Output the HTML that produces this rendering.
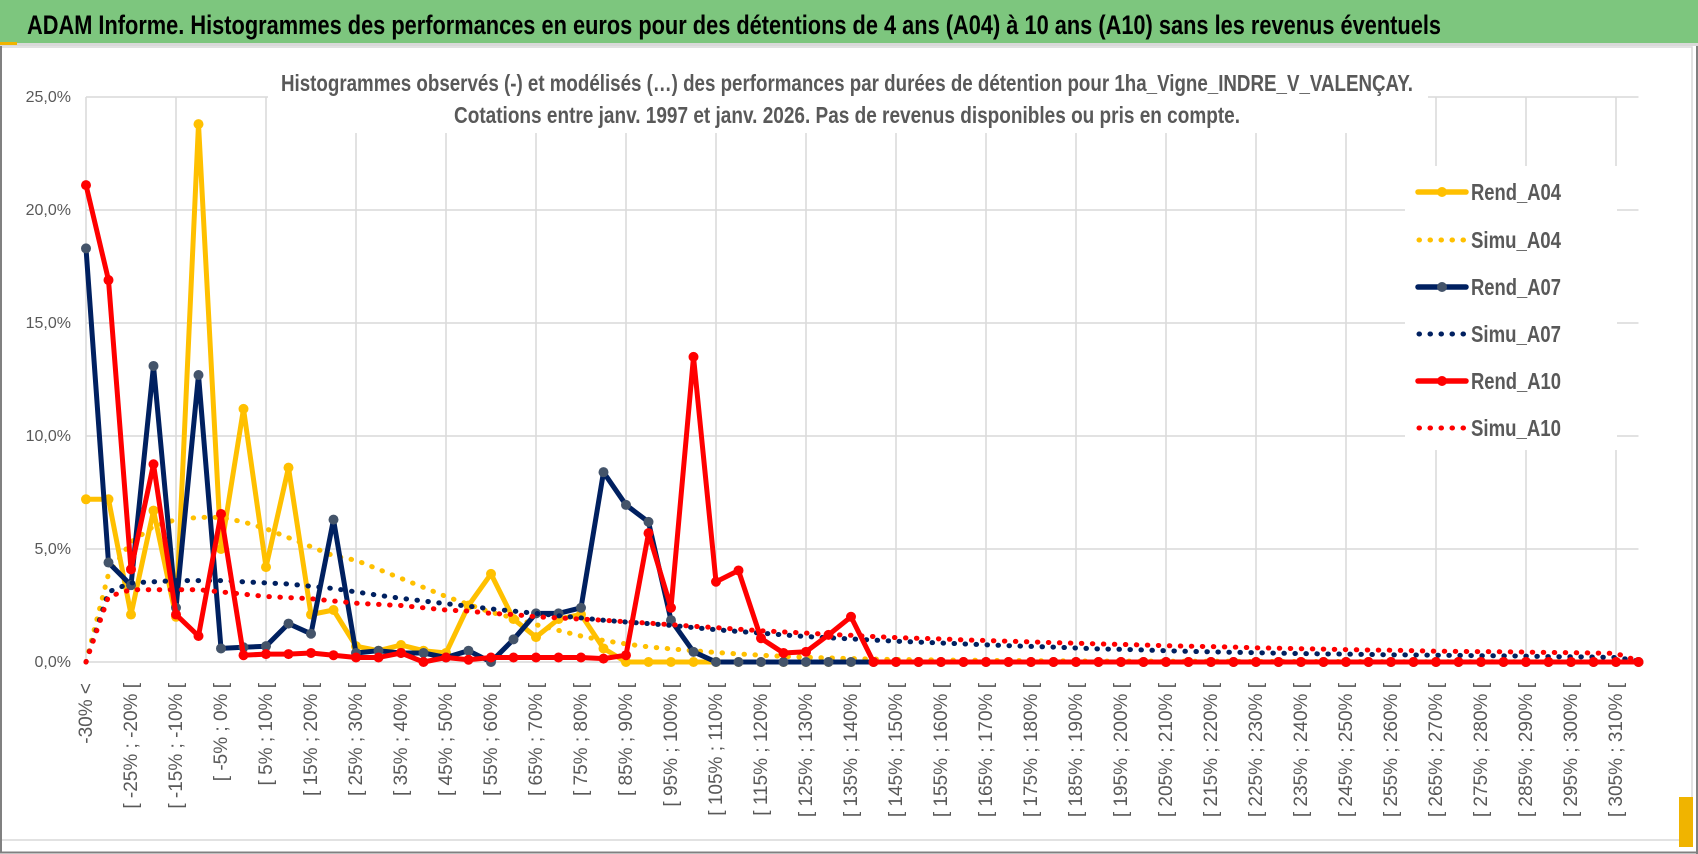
<!DOCTYPE html>
<html><head><meta charset="utf-8">
<style>
html,body{margin:0;padding:0;background:#fff;}
svg{display:block;}
text{font-family:"Liberation Sans",sans-serif;}
.cond{font-family:"Liberation Sans Narrow","Liberation Sans",sans-serif;}
</style></head>
<body>
<svg id="chart" width="1698" height="854" viewBox="0 0 1698 854" xmlns="http://www.w3.org/2000/svg">
  <rect x="0" y="0" width="1698" height="854" fill="#ffffff"/>
  <rect x="0" y="0" width="1698" height="43" fill="#7DC67E"/>
  <rect x="0" y="43" width="1698" height="3" fill="#d9d9d9"/>
  <rect x="0" y="42" width="17" height="3" fill="#F0B400"/>
  <text class="cond" x="27" y="34" font-size="27" font-weight="bold" fill="#000" textLength="1414" lengthAdjust="spacingAndGlyphs">ADAM Informe. Histogrammes des performances en euros pour des détentions de 4 ans (A04) à 10 ans (A10) sans les revenus éventuels</text>
  <rect x="1" y="47" width="1691" height="793" fill="none" stroke="#d9d9d9" stroke-width="1.5"/>
  <line x1="1" y1="46" x2="1" y2="853" stroke="#808080" stroke-width="2"/>
  <line x1="0" y1="852.5" x2="1698" y2="852.5" stroke="#808080" stroke-width="2"/>
  <line x1="1697" y1="46" x2="1697" y2="854" stroke="#808080" stroke-width="2"/>
  <rect x="1679" y="797" width="14" height="50" fill="#F0B400"/>
  <g id="grid"></g>
  <rect x="268" y="60" width="1160" height="73" fill="#fff"/>
  <rect x="1405" y="166" width="212" height="284" fill="#fff"/>
  <text class="cond" x="847" y="91" font-size="23" font-weight="bold" fill="#595959" text-anchor="middle" textLength="1132" lengthAdjust="spacingAndGlyphs">Histogrammes observés (-) et modélisés (…) des performances par durées de détention pour 1ha_Vigne_INDRE_V_VALENÇAY.</text>
  <text class="cond" x="847" y="123" font-size="23" font-weight="bold" fill="#595959" text-anchor="middle" textLength="786" lengthAdjust="spacingAndGlyphs">Cotations entre janv. 1997 et janv. 2026. Pas de revenus disponibles ou pris en compte.</text>
  <g id="yaxis"></g>
  <g id="xaxis"></g>
  <g id="series"></g>
  <g id="legend"></g>
</svg>
<script>
const yTicks = [0, 5, 10, 15, 20, 25];
const yTickLabels = ["0,0%", "5,0%", "10,0%", "15,0%", "20,0%", "25,0%"];
const categoryCount = 70;
const rendA04 = [7.2,7.2,2.1,6.7,2.0,23.8,5.0,11.2,4.2,8.6, 2.1,2.3,0.7,0.5,0.75,0.5,0.4,2.5,3.9,1.9, 1.1,1.9,2.1,0.6,0,0,0,0,0,0, 0,0,0,0,0,0,0,0,0,0, 0,0,0,0,0,0,0,0,0,0, 0,0,0,0,0,0,0,0,0,0, 0,0,0,0,0,0,0,0,0,0];
const simuA04 = [0,3.9,5.3,6.0,6.3,6.4,6.4,6.2,5.9,5.5, 5.1,4.7,4.5,4.1,3.7,3.3,2.9,2.55,2.2,1.95, 1.65,1.4,1.15,0.95,0.8,0.67,0.58,0.5,0.42,0.36, 0.3,0.25,0.21,0.18,0.15,0.13,0.11,0.1,0.09,0.08, 0.07,0.06,0.06,0.05,0.05,0.04,0.04,0.04,0.03,0.03, 0.03,0.03,0.02,0.02,0.02,0.02,0.02,0.02,0.01,0.01, 0.01,0.01,0.01,0.01,0.01,0.01,0.01,0.01,0.01,0];
const rendA07 = [18.3,4.4,3.4,13.1,2.4,12.7,0.6,0.65,0.7,1.7, 1.25,6.3,0.4,0.5,0.4,0.4,0.2,0.5,0.0,1.0, 2.15,2.15,2.4,8.4,6.95,6.2,1.85,0.45,0,0, 0,0,0,0,0,0,0,0,0,0, 0,0,0,0,0,0,0,0,0,0, 0,0,0,0,0,0,0,0,0,0, 0,0,0,0,0,0,0,0,0,0];
const simuA07 = [0,3.1,3.5,3.55,3.6,3.6,3.6,3.55,3.5,3.45, 3.35,3.25,3.1,2.95,2.82,2.7,2.58,2.47,2.35,2.25, 2.15,2.05,1.95,1.85,1.77,1.7,1.62,1.52,1.43,1.35, 1.28,1.2,1.13,1.07,1.02,0.97,0.92,0.88,0.84,0.8, 0.76,0.72,0.69,0.66,0.62,0.58,0.56,0.53,0.5,0.47, 0.45,0.43,0.41,0.39,0.37,0.36,0.35,0.33,0.32,0.31, 0.3,0.29,0.28,0.27,0.26,0.24,0.23,0.22,0.2,0.05];
const rendA10 = [21.1,16.9,4.1,8.75,2.1,1.15,6.55,0.3,0.35,0.35, 0.4,0.3,0.2,0.2,0.4,0.0,0.2,0.1,0.2,0.2, 0.2,0.2,0.2,0.15,0.3,5.7,2.4,13.5,3.55,4.05, 1.05,0.4,0.45,1.2,2.0,0,0,0,0,0, 0,0,0,0,0,0,0,0,0,0, 0,0,0,0,0,0,0,0,0,0, 0,0,0,0,0,0,0,0,0,0];
const simuA10 = [0,2.9,3.2,3.2,3.2,3.2,3.1,3.0,2.9,2.85, 2.8,2.7,2.6,2.55,2.5,2.4,2.3,2.25,2.15,2.1, 2.0,1.95,1.9,1.85,1.78,1.72,1.65,1.58,1.52,1.45, 1.38,1.33,1.28,1.22,1.18,1.13,1.08,1.05,1.02,0.98, 0.95,0.92,0.89,0.86,0.83,0.8,0.78,0.75,0.72,0.7, 0.68,0.66,0.63,0.61,0.59,0.57,0.55,0.53,0.52,0.5, 0.48,0.47,0.46,0.45,0.44,0.42,0.41,0.4,0.38,0.05];
const seriesNames = ["Rend_A04","Simu_A04","Rend_A07","Simu_A07","Rend_A10","Simu_A10"];

const NS = "http://www.w3.org/2000/svg";
const X0 = 86, DX = 22.5, Y0 = 662, PPU = 22.6;
function xPos(i){ return X0 + DX * i; }
function yPos(v){ return Y0 - PPU * v; }
function mk(tag, attrs, parent){
  const e = document.createElementNS(NS, tag);
  for (const k in attrs) e.setAttribute(k, attrs[k]);
  parent.appendChild(e);
  return e;
}
function catLabel(i){
  if (i === 0) return "-30% <";
  if (i === categoryCount - 1) return "> 310%";
  const a = -30 + 5 * (i - 1);
  return "[ " + a + "% ; " + (a + 5) + "% [";
}
const grid = document.getElementById("grid");
const xEnd = xPos(categoryCount - 1);
yTicks.forEach((t) => {
  const l = mk("line", {x1: X0, x2: xEnd, y1: yPos(t), y2: yPos(t), stroke: "#d9d9d9", "stroke-width": 1.5}, grid);
  
  
});
for (let i = 0; i < categoryCount; i += 4) {
  const l = mk("line", {x1: xPos(i), x2: xPos(i), y1: yPos(25), y2: yPos(0), stroke: "#d9d9d9", "stroke-width": 1.5}, grid);
  
  
}
const yaxis = document.getElementById("yaxis");
yTicks.forEach((t, k) => {
  const tx = mk("text", {x: 71, y: yPos(t) + 5, "text-anchor": "end", "font-size": 16, fill: "#595959"}, yaxis);
  tx.textContent = yTickLabels[k];
  
  
});
const xaxis = document.getElementById("xaxis");
for (let i = 0; i < categoryCount; i += 2) {
  const x = xPos(i) + 6;
  const tx = mk("text", {x: 0, y: 0, transform: "translate(" + x + ",683) rotate(-90)", "text-anchor": "end", "font-size": 19, fill: "#595959"}, xaxis);
  tx.textContent = catLabel(i);
  
  
}
const seriesLayer = document.getElementById("series");
function pathFor(vals){
  return vals.map((v, i) => (i ? "L" : "M") + xPos(i).toFixed(1) + " " + yPos(v).toFixed(1)).join(" ");
}
function drawSolid(vals, color, markerColor, name){
  const g = mk("g", {}, seriesLayer);
  
  
  mk("path", {d: pathFor(vals), fill: "none", stroke: color, "stroke-width": 5, "stroke-linejoin": "round", "stroke-linecap": "round"}, g);
  vals.forEach((v, i) => {
    const c = mk("circle", {cx: xPos(i), cy: yPos(v), r: 5, fill: markerColor}, g);
    
    
  });
}
function drawDotted(vals, color, name){
  const p = mk("path", {d: pathFor(vals), fill: "none", stroke: color, "stroke-width": 5, "stroke-dasharray": "0.5 10.5", "stroke-linecap": "round", "stroke-linejoin": "round"}, seriesLayer);
  
  
}
drawSolid(rendA04, "#FFC000", "#FFC000", "series-rend-a04");
drawDotted(simuA04, "#FFC000", "series-simu-a04");
drawSolid(rendA07, "#002060", "#44546A", "series-rend-a07");
drawDotted(simuA07, "#002060", "series-simu-a07");
drawSolid(rendA10, "#FF0000", "#FF0000", "series-rend-a10");
drawDotted(simuA10, "#FF0000", "series-simu-a10");

const legend = document.getElementById("legend");
const legendY = [192, 240, 287, 334, 381, 428];
const legendColors = ["#FFC000","#FFC000","#002060","#002060","#FF0000","#FF0000"];
const legendMarker = ["#FFC000",null,"#44546A",null,"#FF0000",null];
seriesNames.forEach((n, k) => {
  const g = mk("g", {}, legend);
  
  
  const y = legendY[k];
  if (legendMarker[k]) {
    mk("line", {x1: 1418, x2: 1466, y1: y, y2: y, stroke: legendColors[k], "stroke-width": 5.5, "stroke-linecap": "round"}, g);
    mk("circle", {cx: 1442, cy: y, r: 5, fill: legendMarker[k]}, g);
  } else {
    mk("line", {x1: 1419, x2: 1466, y1: y, y2: y, stroke: legendColors[k], "stroke-width": 5, "stroke-dasharray": "0.5 10.5", "stroke-linecap": "round"}, g);
  }
  const t = mk("text", {class: "cond", x: 1471, y: y + 8, "font-size": 23, "font-weight": "bold", fill: "#595959", textLength: 90, lengthAdjust: "spacingAndGlyphs"}, g);
  t.textContent = n;
});
</script>
</body></html>
